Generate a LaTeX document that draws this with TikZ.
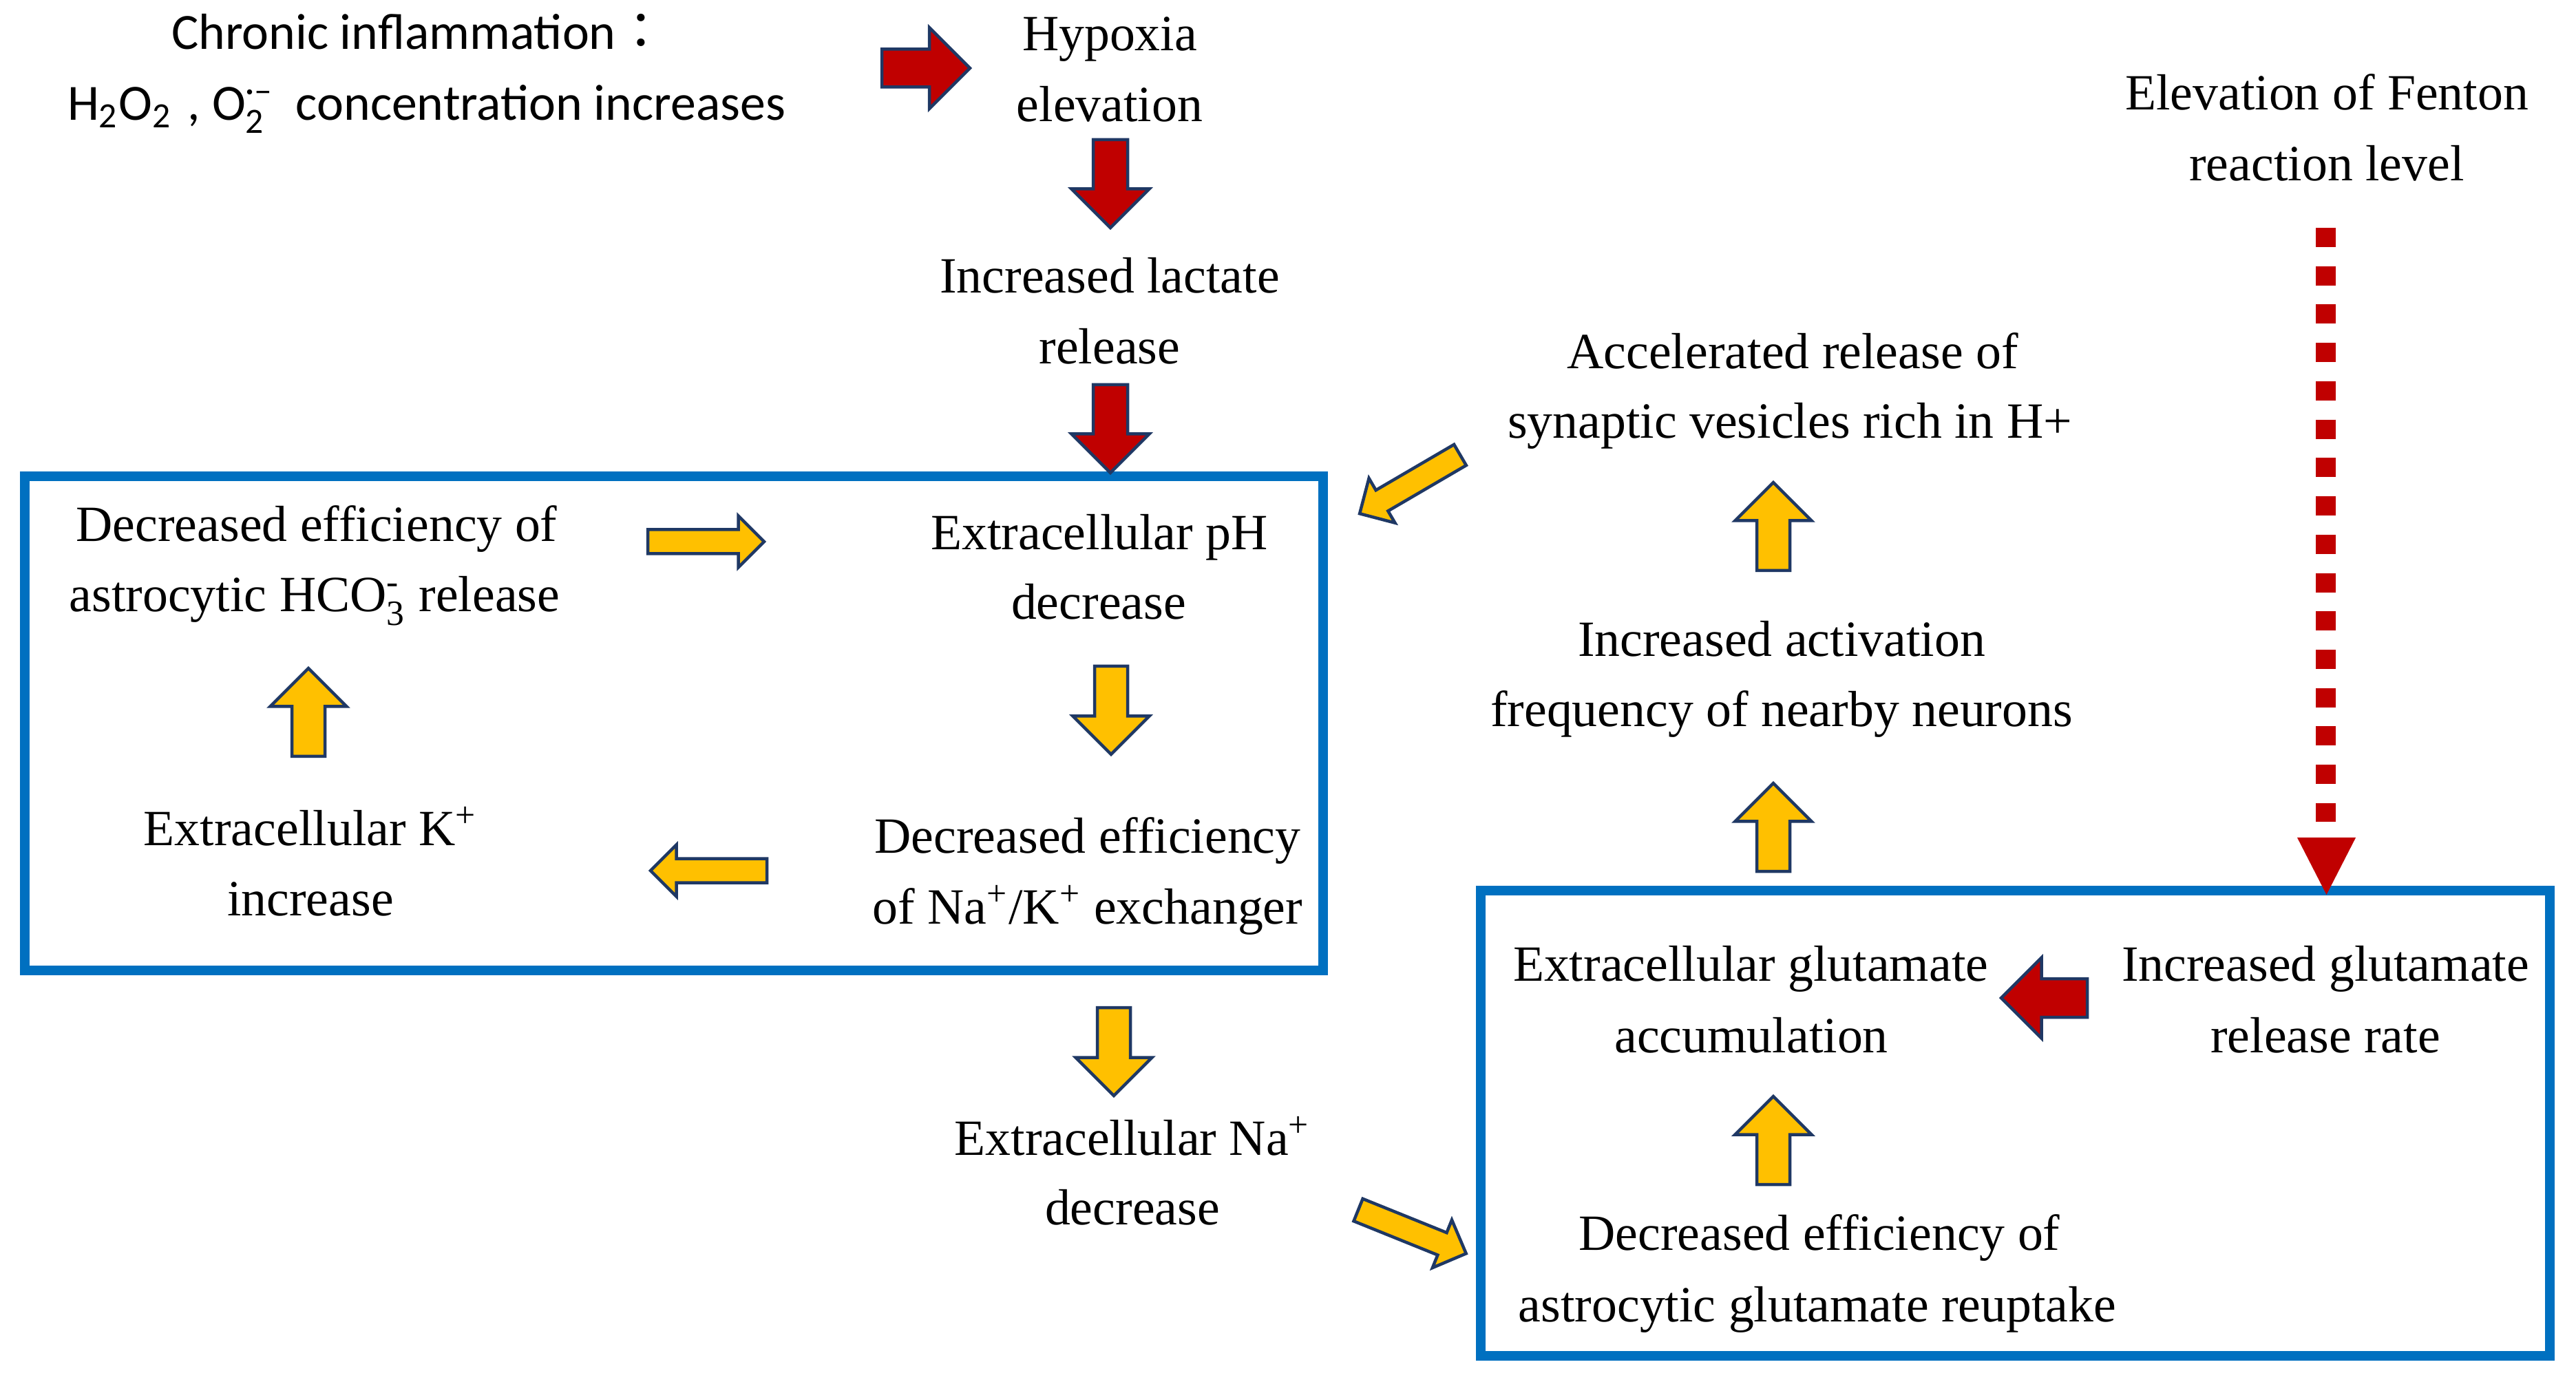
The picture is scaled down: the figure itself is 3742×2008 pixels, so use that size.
\documentclass[tikz,border=0pt]{standalone}
\usepackage{amsmath}
\usepackage{fontspec}
\setmainfont{Liberation Serif}
\newfontfamily\sansf{Carlito}
\newfontfamily\cjkf{Noto Sans CJK JP}
\definecolor{myred}{HTML}{C00000}
\definecolor{myyellow}{HTML}{FFC000}
\definecolor{navy}{HTML}{1F3864}
\definecolor{boxblue}{HTML}{0070C0}
\newcommand\blockarrow[7]{%
  \path[#1, shift={(#2,#3)}, rotate=#4] (0,-#6/2) -- ({#5-#7/2},-#6/2) -- ({#5-#7/2},-#7/2) -- (#5,0) -- ({#5-#7/2},#7/2) -- ({#5-#7/2},#6/2) -- (0,#6/2) -- cycle;}
\tikzset{
  txt/.style={inner sep=0pt, anchor=base, font=\fontsize{14.75pt}{17pt}\selectfont},
  stxt/.style={inner sep=0pt, anchor=base west, font=\fontsize{14.75pt}{17pt}\selectfont\sansf},
  redarr/.style={fill=myred, draw=navy, line width=0.9pt},
  yelarr/.style={fill=myyellow, draw=navy, line width=0.9pt},
  bluebox/.style={draw=boxblue, line width=2.8pt},
  fentondots/.style={draw=myred, line width=5.8pt, dash pattern=on 5.6pt off 5.546pt}
}
\begin{document}
\begin{tikzpicture}[x=0.2pt,y=-0.2pt]
\useasboundingbox (0,0) rectangle (3742,2008);
\fill[white] (0,0) rectangle (3742,2008);

% blue boxes
\draw[bluebox] (36,692) rectangle (1922,1410);
\draw[bluebox] (2151,1294) rectangle (3703.5,1969.5);

% texts
\node[stxt] (chron1) at (248,72) {Chronic inflammation{\cjkf ：}};
\node[stxt] (chron2) at (97,175) {H$_{\text{2}}$O$_{\text{2}}$\hspace{2pt}\,,\,\hspace{1pt}O$_{\text{2}}^{\text{·–}}$\hspace{3pt}\ concentration increases};
\node[txt] (hyp1) at (1612,74) {Hypoxia};
\node[txt] (hyp2) at (1612,177) {elevation};
\node[txt] (lac1) at (1612,426) {Increased lactate};
\node[txt] (lac2) at (1612,529) {release};
\node[txt] (hco1) at (460,787) {Decreased efficiency of};
\node[txt] (hco2) at (457,889) {astrocytic HCO$_{\text{3}}^{\text{-}}$ release};
\node[txt] (ph1) at (1597,799) {Extracellular pH};
\node[txt] (ph2) at (1596,900) {decrease};
\node[txt] (kp1) at (451,1228) {Extracellular K\textsuperscript{+}};
\node[txt] (kp2) at (451,1330) {increase};
\node[txt] (nak1) at (1580,1239) {Decreased efficiency};
\node[txt] (nak2) at (1580,1342) {of Na\textsuperscript{+}/K\textsuperscript{+} exchanger};
\node[txt] (na1) at (1645,1678) {Extracellular Na\textsuperscript{+}};
\node[txt] (na2) at (1645,1779) {decrease};
\node[txt] (glu1) at (2543,1425) {Extracellular glutamate};
\node[txt] (glu2) at (2544,1529) {accumulation};
\node[txt] (rel1) at (3378,1425) {Increased glutamate};
\node[txt] (rel2) at (3378,1529) {release rate};
\node[txt] (reu1) at (2643,1816) {Decreased efficiency of};
\node[txt] (reu2) at (2640,1920) {astrocytic glutamate reuptake};
\node[txt] (acc1) at (2604,536) {Accelerated release of};
\node[txt] (acc2) at (2600,637) {synaptic vesicles rich in H+};
\node[txt] (act1) at (2588,954) {Increased activation};
\node[txt] (act2) at (2588,1056) {frequency of nearby neurons};
\node[txt] (fen1) at (3380,160) {Elevation of Fenton};
\node[txt] (fen2) at (3380,263) {reaction level};

% red block arrows
\blockarrow{redarr}{1281}{99}{0}{128}{55}{118}
\blockarrow{redarr}{1613}{203}{-90}{128}{50}{113}
\blockarrow{redarr}{1613}{559}{-90}{128}{50}{113}
\blockarrow{redarr}{3032}{1450}{180}{125}{56}{117}

% yellow block arrows
\blockarrow{yelarr}{941}{787}{0}{169}{35}{75}
\blockarrow{yelarr}{1614}{968}{-90}{128}{48}{111}
\blockarrow{yelarr}{1114}{1265}{180}{169}{35}{75}
\blockarrow{yelarr}{448}{1099}{90}{128}{48}{111}
\blockarrow{yelarr}{1618}{1464}{-90}{128}{48}{111}
\blockarrow{yelarr}{1973}{1758}{-22}{169}{35}{75}
\blockarrow{yelarr}{2576}{1721}{90}{128}{48}{111}
\blockarrow{yelarr}{2576}{1266}{90}{128}{48}{111}
\blockarrow{yelarr}{2576}{829}{90}{128}{48}{111}
\blockarrow{yelarr}{2121}{661}{210.3}{169}{35}{75}

% Fenton dotted arrow
\coordinate (fenstart) at (3378.5,331);
\coordinate (fenend) at (3378.5,1194);
\draw[fentondots] (fenstart) -- (fenend);
\fill[myred] (3337,1217) -- (3422,1217) -- (3379.5,1300) -- cycle;
\end{tikzpicture}
\end{document}
